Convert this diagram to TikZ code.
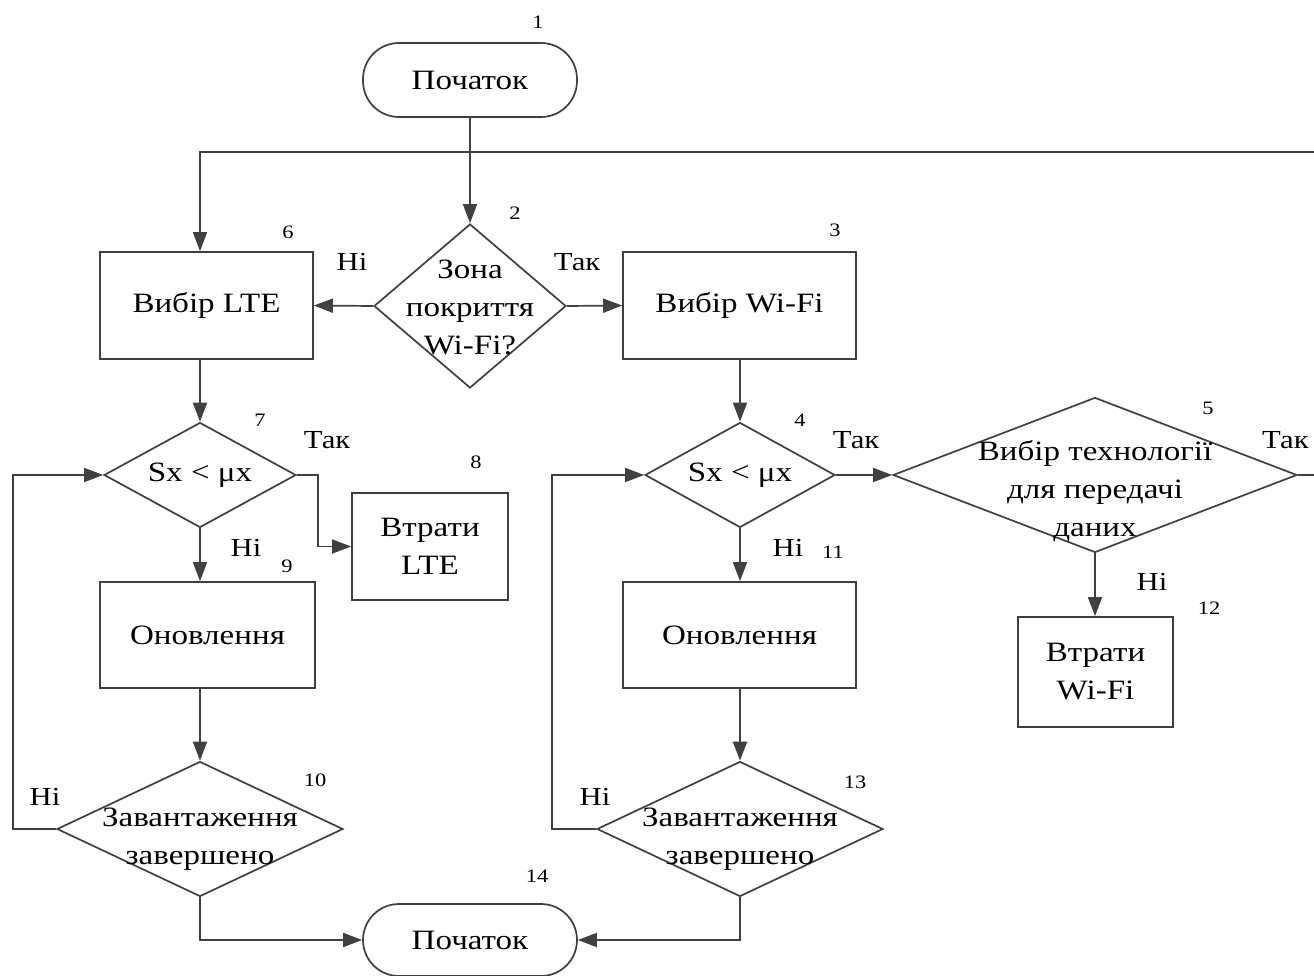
\documentclass[tikz,border=0pt]{standalone}
\usepackage{fontspec}
\setmainfont{Liberation Serif}[FakeStretch=1.18]
\usetikzlibrary{arrows.meta,shapes.geometric}
\begin{document}
\begin{tikzpicture}[x=1pt,y=-1pt,
  line/.style={draw=black!75, line width=1.7pt},
  arr/.style={line, -{Triangle[length=19pt,width=14pt]}},
  box/.style={draw=black!75, line width=1.7pt, rectangle, inner sep=0pt,
    font=\fontsize{28}{38}\selectfont, align=center},
  term/.style={box, rounded corners=36pt},
  dia/.style={draw=black!75, line width=1.7pt, diamond, inner sep=0pt},
  txt/.style={font=\fontsize{28}{38}\selectfont, align=center, inner sep=0pt},
  num/.style={font=\fontsize{19}{22}\selectfont, inner sep=0pt},
  yn/.style={font=\fontsize{26}{30}\selectfont, inner sep=0pt}]
\useasboundingbox[fill=white] (0,0) rectangle (1314,976);

% nodes
\node[term, minimum width=214pt, minimum height=74pt] (n1) at (470,80) {Початок};
\node[dia, minimum width=192pt, minimum height=164pt] (n2) at (470,306) {};
\node[txt] (t2) at (470,307) {Зона\\покриття\\Wi-Fi?};
\node[box, minimum width=213pt, minimum height=107pt] (n6) at (206.5,305.5) {Вибір LTE};
\node[box, minimum width=233pt, minimum height=107pt] (n3) at (739.5,305.5) {Вибір Wi-Fi};
\node[dia, minimum width=192pt, minimum height=105pt] (n7) at (200,475) {};
\node[txt] (t7) at (200,475) {Sx < μx};
\node[box, minimum width=156pt, minimum height=107pt] (n8) at (430,546.5) {Втрати\\LTE};
\node[box, minimum width=215pt, minimum height=106pt] (n9) at (207.5,635) {Оновлення};
\node[dia, minimum width=286pt, minimum height=135pt] (n10) at (200,829) {};
\node[txt] (t10) at (200,839) {Завантаження\\завершено};
\node[term, minimum width=214pt, minimum height=72pt] (n14) at (470,940) {Початок};
\node[dia, minimum width=190pt, minimum height=105pt] (n4) at (740,475) {};
\node[txt] (t4) at (740,475) {Sx < μx};
\node[dia, minimum width=404pt, minimum height=155pt] (n5) at (1095,475) {};
\node[txt] (t5) at (1095,491) {Вибір технології\\для передачі\\даних};
\node[box, minimum width=233pt, minimum height=106pt] (n11) at (739.5,635) {Оновлення};
\node[box, minimum width=155pt, minimum height=110pt] (n12) at (1095.5,672) {Втрати\\Wi-Fi};
\node[dia, minimum width=286pt, minimum height=135pt] (n13) at (740,829) {};
\node[txt] (t13) at (740,839) {Завантаження\\завершено};

% helper coordinates
\coordinate (topL) at (200,152);
\coordinate (topR) at (1314,152);
\coordinate (e5) at (1314,475);
\coordinate (j7) at (318,475);
\coordinate (l10) at (13,829);
\coordinate (l13) at (552,829);

% connectors
\draw[arr] (n1.south) -- (n2.north);
\draw[arr] (topR) -- (topL) -- (topL |- n6.north);
\draw[arr] (n2.west) -- (n6.east);
\draw[arr] (n2.east) -- (n3.west);
\draw[arr] (n6.south -| n7) -- (n7.north);
\draw[arr] (n7.east) -- (j7) |- (n8.west);
\draw[arr] (n7.south) -- (n7.south |- n9.north);
\draw[arr] (n9.south -| n10) -- (n10.north);
\draw[arr] (n10.west) -- (l10) |- (n7.west);
\draw[arr] (n10.south) |- (n14.west);
\draw[arr] (n3.south -| n4) -- (n4.north);
\draw[arr] (n4.east) -- (n5.west);
\draw[line] (n5.east) -- (e5);
\draw[arr] (n5.south) -- (n5.south |- n12.north);
\draw[arr] (n4.south) -- (n4.south |- n11.north);
\draw[arr] (n11.south -| n13) -- (n13.north);
\draw[arr] (n13.west) -- (l13) |- (n4.west);
\draw[arr] (n13.south) |- (n14.east);

% yes / no labels
\node[yn] (y2a) at (352,262) {Ні};
\node[yn] (y2b) at (577,262) {Так};
\node[yn] (y7a) at (327,440) {Так};
\node[yn] (y7b) at (246,548) {Ні};
\node[yn] (y4a) at (856,440) {Так};
\node[yn] (y4b) at (788,548) {Ні};
\node[yn, anchor=west] (y5a) at (1262,440) {Так};
\node[yn] (y5b) at (1152,582) {Ні};
\node[yn] (y10) at (45,797) {Ні};
\node[yn] (y13) at (595,797) {Ні};

% numbers
\node[num] (m1) at (538,22) {1};
\node[num] (m2) at (515,213) {2};
\node[num] (m3) at (835,230) {3};
\node[num] (m4) at (800,420) {4};
\node[num] (m5) at (1208,408) {5};
\node[num] (m6) at (288,232) {6};
\node[num] (m7) at (260,420) {7};
\node[num] (m8) at (476,462) {8};
\node[num] (m9) at (287,566) {9};
\node[num] (m10) at (315,780) {10};
\node[num] (m11) at (833,552) {11};
\node[num] (m12) at (1209,608) {12};
\node[num] (m13) at (855,782) {13};
\node[num] (m14) at (537,876) {14};
\end{tikzpicture}
\end{document}
